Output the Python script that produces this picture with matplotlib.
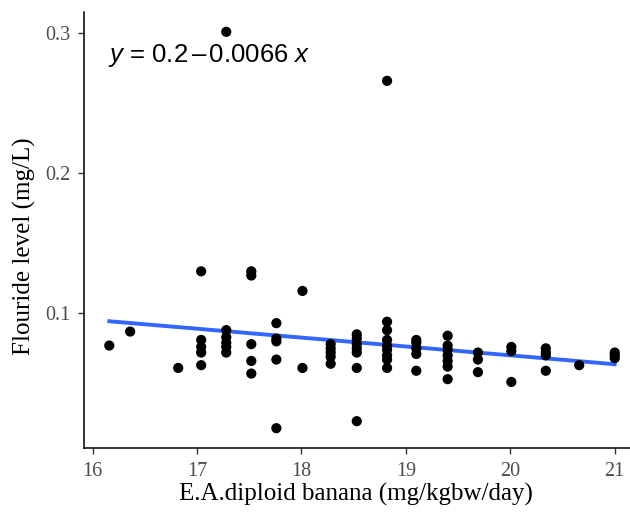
import numpy as np
import matplotlib
matplotlib.use("Agg")
import matplotlib.pyplot as plt

plt.rcParams["mathtext.fontset"] = "custom"
plt.rcParams["mathtext.rm"] = "Liberation Sans"
plt.rcParams["mathtext.it"] = "Liberation Sans:italic"

# ---- data ----
x_levels = [16.16, 16.36, 16.82, 17.04, 17.28, 17.52, 17.76, 18.01, 18.28,
            18.53, 18.82, 19.10, 19.40, 19.69, 20.01, 20.34, 20.66, 21.00]
fluoride = [
    [0.077],
    [0.087],
    [0.061],
    [0.130, 0.081, 0.076, 0.072, 0.063],
    [0.301, 0.088, 0.083, 0.079, 0.076, 0.072],
    [0.130, 0.127, 0.078, 0.066, 0.057],
    [0.093, 0.082, 0.080, 0.067, 0.018],
    [0.116, 0.061],
    [0.078, 0.075, 0.072, 0.069, 0.064],
    [0.085, 0.082, 0.078, 0.075, 0.072, 0.061, 0.023],
    [0.266, 0.094, 0.088, 0.081, 0.077, 0.074, 0.070, 0.067, 0.061],
    [0.081, 0.079, 0.075, 0.071, 0.059],
    [0.084, 0.077, 0.074, 0.070, 0.066, 0.062, 0.053],
    [0.072, 0.067, 0.058],
    [0.076, 0.073, 0.051],
    [0.075, 0.072, 0.070, 0.059],
    [0.063],
    [0.072, 0.070, 0.068],
]
fit_intercept = 0.1968
fit_slope = -0.00634
equation_label = r"$\mathit{y}$ = 0.2$\,$–$\,$0.0066 $\mathit{x}$"
x_ticks = [16, 17, 18, 19, 20, 21]
y_ticks = [0.1, 0.2, 0.3]
x_title = "E.A.diploid banana (mg/kgbw/day)"
y_title = "Flouride level (mg/L)"

xs = np.concatenate([[xv] * len(ys) for xv, ys in zip(x_levels, fluoride)])
ys = np.concatenate(fluoride)

W, H = 630, 522
fig = plt.figure(figsize=(W / 100, H / 100), dpi=100)
# panel in pixel coordinates (right edge extends beyond the image as in the reference)
left_px, right_px, top_px, bottom_px = 84, 640, 12, 448
ax = fig.add_axes([left_px / W, (H - bottom_px) / H,
                   (right_px - left_px) / W, (bottom_px - top_px) / H])

# ggplot-style 5% expansion
xr = xs.max() - xs.min()
yr = ys.max() - ys.min()
ax.set_xlim(xs.min() - 0.05 * xr, xs.max() + 0.05 * xr)
ax.set_ylim(ys.min() - 0.05 * yr, ys.max() + 0.05 * yr)

ax.scatter(xs, ys, s=54, color="black", edgecolors="none", zorder=3)

lx = np.linspace(xs.min(), xs.max(), 80)
ax.plot(lx, fit_intercept + fit_slope * lx, color="#3366FF", lw=2.8, zorder=2)

serif = ["Liberation Serif", "DejaVu Serif"]
ax.set_xticks(x_ticks)
ax.set_yticks(y_ticks)
ax.set_xticklabels([str(t) for t in x_ticks], family=serif, fontsize=14.5, color="#4D4D4D")
ax.set_yticklabels([f"{t:.1f}" for t in y_ticks], family=serif, fontsize=14.5, color="#4D4D4D")
ax.tick_params(length=4, width=1, color="#333333", pad=6)
for s in ["top", "right"]:
    ax.spines[s].set_visible(False)
for s in ["left", "bottom"]:
    ax.spines[s].set_linewidth(1.1)
    ax.spines[s].set_color("black")

fig.text(356 / W, 1 - 494 / H, x_title, family=serif, fontsize=18,
         ha="center", va="center")
fig.text(24 / W, 1 - 246 / H, y_title, family=serif, fontsize=18,
         ha="center", va="center", rotation=90)

ax.text(16.15, 0.2843, equation_label, family=["Liberation Sans", "DejaVu Sans"],
        fontsize=18.5, ha="left", va="center")

fig.savefig("out.png", dpi=100)
